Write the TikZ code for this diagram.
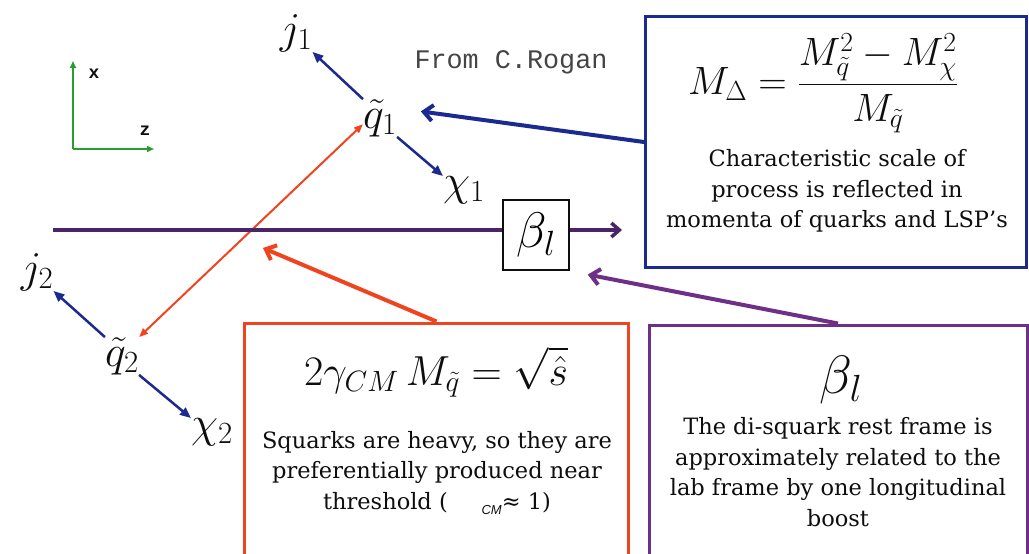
\RequirePackage{fix-cm}
\documentclass[tikz,border=0pt]{standalone}
\usepackage{amsmath}
\usepackage{fontspec}
\setmainfont{DejaVu Serif}
\setmonofont{Liberation Mono}
\setsansfont{Liberation Sans}
\usepackage{tikz}
\usetikzlibrary{positioning,arrows.meta,calc}
\definecolor{navy}{HTML}{1B2A8E}
\definecolor{flame}{HTML}{F0431F}
\definecolor{plum}{HTML}{4A2466}
\definecolor{plumlt}{HTML}{6E2F86}
\definecolor{axgreen}{HTML}{2A9D2F}
\definecolor{ink}{HTML}{0E0E0E}
\definecolor{credgray}{HTML}{444444}
\tikzset{
  axis/.style={-{Triangle[length=7pt,width=6pt]}, line width=1.8pt, color=axgreen},
  axlab/.style={font=\ttfamily\bfseries\fontsize{18}{18}\selectfont, text=ink},
  ptl/.style={font=\fontsize{44}{44}\selectfont, inner sep=0pt, text=ink},
  decay/.style={-{Triangle[length=11pt,width=9pt]}, line width=2.5pt, color=navy},
  pair/.style={{Triangle[length=9pt,width=7pt]}-{Triangle[length=9pt,width=7pt]}, line width=2pt, color=flame},
  beam/.style={-{Straight Barb[length=8pt,width=14pt]}, line width=3.5pt, color=plum},
  callout/.style={-{Straight Barb[length=9pt,width=16pt]}, line width=4pt, color=#1},
  panel/.style={draw=#1, line width=3pt, fill=white, inner sep=0pt},
  formula/.style={font=\fontsize{#1}{#1}\selectfont, inner sep=0pt, text=ink},
  formula/.default=40,
  note/.style={font=\fontsize{22.5}{30.5}\selectfont, align=center, inner sep=0pt, text=ink},
  credit/.style={font=\ttfamily\fontsize{26.8}{26.8}\selectfont, text=credgray, inner sep=0pt},
}
\begin{document}
\begin{tikzpicture}[x=1pt,y=-1pt]
  \useasboundingbox (0,0) rectangle (1029,554);
  \clip (0,0) rectangle (1029,554);
  % frame axes
  \coordinate (orig) at (73,149);
  \draw[axis] (orig) -- (73,61);
  \draw[axis] (orig) -- (154,149);
  \node[axlab] (xlab) at (94,74) {x};
  \node[axlab] (zlab) at (145,131) {z};
  \node[credit] (credit) at (511,62) {From C.Rogan};
  % decay legs
  \node[ptl] (j1) at (296,33) {$j_1$};
  \node[ptl] (q1) at (380,118) {$\tilde{q}_1$};
  \node[ptl] (chi1) at (464,190) {$\chi_1$};
  \node[ptl] (j2) at (37,272) {$j_2$};
  \node[ptl] (q2) at (122,356) {$\tilde{q}_2$};
  \node[ptl] (chi2) at (212,432) {$\chi_2$};
  \draw[decay] (q1.north west) -- (j1.south east);
  \draw[decay] (q1.south east) -- (chi1.north west);
  \draw[decay] (q2.north west) -- (j2.south east);
  \draw[decay] (q2.south east) -- (chi2.north west);
  \draw[pair] (q2.north east) -- (q1.200);
  % longitudinal boost
  \coordinate (beamL) at (53,230);
  \coordinate (beamR) at (622,230);
  \draw[beam] (beamL) -- (beamR);
  \node[draw=ink, line width=2.2pt, fill=white, minimum width=66pt, minimum height=70pt,
    inner sep=0pt, font=\fontsize{50}{50}\selectfont] (beta) at (536,235) {$\beta_l$};
  % info boxes
  \node[panel=navy, minimum width=381pt, minimum height=251pt] (mbox) at (836,142) {};
  \node[formula=39.5] (mdelta) at (823,83) {$M_\Delta = \dfrac{M_{\tilde q}^2 - M_\chi^2}{M_{\tilde q}}$};
  \node[note] (mnote) at (837,191) {Characteristic scale of\\process is reflected in\\momenta of quarks and LSP’s};
  \node[panel=flame, minimum width=384pt, minimum height=280pt] (rbox) at (436.5,463) {};
  \node[formula=42] (gform) at (436,372) {$2\gamma_{CM}\, M_{\tilde q} = \sqrt{\hat s}$};
  \node[note] (gnote) at (437,473) {Squarks are heavy, so they are\\preferentially produced near\\threshold (\hspace{1.5em}\raisebox{-0.5ex}{\sffamily\itshape\fontsize{13}{13}\selectfont CM}≈ 1)};
  \node[panel=plumlt, minimum width=378pt, minimum height=280pt] (pbox) at (838,465) {};
  \node[formula=54] (bsym) at (841,380) {$\beta_l$};
  \node[note] (bnote) at (838,472) {The di-squark rest frame is\\approximately related to the\\lab frame by one longitudinal\\boost};
  % pointers
  \coordinate (cross) at (263,248);
  \draw[callout=navy, shorten >=24pt] (mbox.west) -- (q1.30);
  \draw[callout=flame] (rbox.north) -- (cross);
  \draw[callout=plumlt, shorten >=18pt] (pbox.north) -- (beta.south east);
\end{tikzpicture}
\end{document}
